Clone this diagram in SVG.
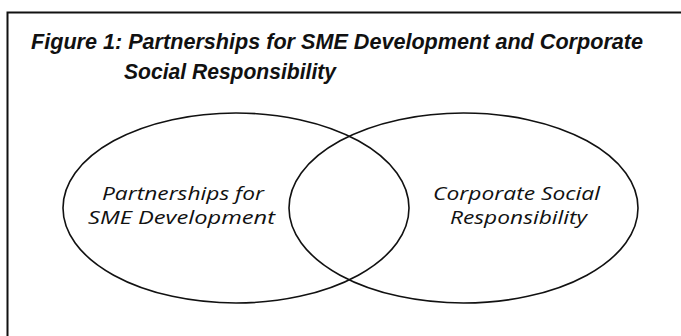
<svg xmlns="http://www.w3.org/2000/svg" width="681" height="336" viewBox="0 0 681 336">
  <style>
    .frame { fill: none; stroke: #111; stroke-width: 2; }
    .set { fill: none; stroke: #111; stroke-width: 1.6; }
    .title { font-family: "Liberation Sans", Arial, sans-serif; font-weight: bold; font-style: italic; font-size: 21.5px; fill: #111; }
    .label { font-family: "Open Sans", "Noto Sans", sans-serif; font-style: italic; font-size: 19px; fill: #111; }
  </style>
  <rect width="681" height="336" fill="#fff"/>
  <!-- open frame: top and left rules -->
  <path class="frame" d="M681,12.5 H7.5 V336"/>
  <g id="title">
    <text class="title" x="31" y="49" textLength="612" lengthAdjust="spacingAndGlyphs">Figure 1: Partnerships for SME Development and Corporate</text>
    <text class="title" x="124" y="79" textLength="212" lengthAdjust="spacingAndGlyphs">Social Responsibility</text>
  </g>
  <g id="sme-partnerships">
    <ellipse class="set" cx="236" cy="208" rx="173" ry="95"/>
    <text class="label" x="102" y="200" textLength="162" lengthAdjust="spacingAndGlyphs">Partnerships for</text>
    <text class="label" x="88" y="224" textLength="187" lengthAdjust="spacingAndGlyphs">SME Development</text>
  </g>
  <g id="csr">
    <ellipse class="set" cx="463.5" cy="208" rx="174.5" ry="95"/>
    <text class="label" x="433" y="200" textLength="167" lengthAdjust="spacingAndGlyphs">Corporate Social</text>
    <text class="label" x="450" y="224" textLength="137" lengthAdjust="spacingAndGlyphs">Responsibility</text>
  </g>
  <g id="connectors"/>
</svg>
